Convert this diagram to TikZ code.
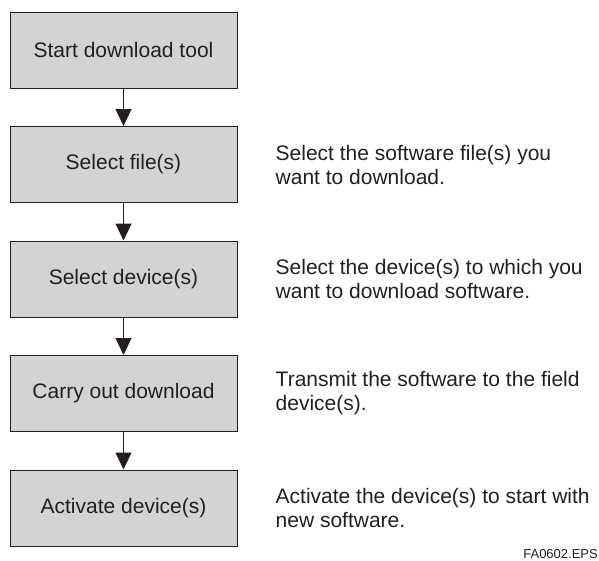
\documentclass[tikz,border=0pt]{standalone}
\usepackage{fontspec}
\setmainfont{Liberation Sans}
\usetikzlibrary{arrows.meta, positioning}

\definecolor{boxgray}{RGB}{210,211,213}
\definecolor{inkgray}{RGB}{35,31,32}

\tikzset{
    stepbox/.style={draw=inkgray, fill=boxgray, line width=1pt, minimum width=227pt,
        minimum height=76pt, inner sep=0pt, font=\fontsize{21}{24}\selectfont, text=inkgray},
    note/.style={align=left, inner sep=0pt, font=\fontsize{21}{24}\selectfont, text=inkgray},
    flow/.style={-{Triangle[width=16pt,length=17pt]}, line width=1pt, draw=inkgray, fill=inkgray}
}

\begin{document}
\begin{tikzpicture}[x=1pt, y=1pt, node distance=37.5pt]

    \useasboundingbox (0,0) rectangle (599,-560);

    % Steps
    \node[stepbox] (start) at (123.5,-50) {Start download tool};
    \node[stepbox, below=of start] (selfile) {Select file(s)};
    \node[stepbox, below=of selfile] (seldev) {Select device(s)};
    \node[stepbox, below=of seldev] (carry) {Carry out download};
    \node[stepbox, below=of carry] (activate) {Activate device(s)};

    % Arrows between steps
    \foreach \a/\b in {start/selfile, selfile/seldev, seldev/carry, carry/activate}
        \draw[flow] (\a) -- (\b);

    % Notes beside the steps
    \node[note, right=38pt of selfile] (notefile) {Select the software file(s) you\\want to download.};
    \node[note, right=38pt of seldev] (notedev) {Select the device(s) to which you\\want to download software.};
    \node[note, right=38pt of carry] (notecarry) {Transmit the software to the field\\device(s).};
    \node[note, right=38pt of activate] (noteact) {Activate the device(s) to start with\\new software.};

    % Figure tag
    \node[anchor=base east, inner sep=0pt, font=\fontsize{13}{15}\selectfont, text=inkgray] (tag) at (598,-558) {FA0602.EPS};

\end{tikzpicture}
\end{document}
